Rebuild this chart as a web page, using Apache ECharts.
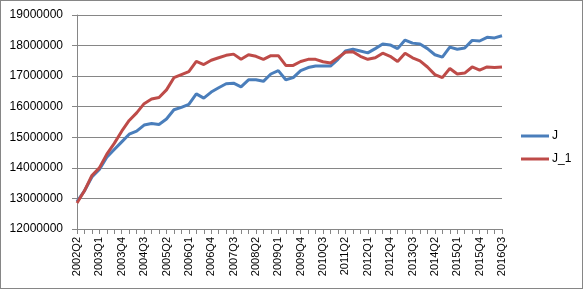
<!DOCTYPE html>
<html>
<head>
<meta charset="utf-8">
<script src="https://cdn.jsdelivr.net/npm/echarts@6/dist/echarts.min.js"></script>
<style>
  html, body { margin: 0; padding: 0; background: #fff; }
  #chart { width: 583px; height: 289px; box-sizing: border-box; border: 1px solid #868686; }
</style>
</head>
<body>
<div id="chart"></div>
<script>
// quarters 2002Q2 .. 2016Q3
const quarters = [];
for (let y = 2002; y <= 2016; y++) {
  for (let q = 1; q <= 4; q++) {
    if (y === 2002 && q < 2) continue;
    if (y === 2016 && q > 3) continue;
    quarters.push(y + 'Q' + q);
  }
}

const seriesJ = [
  12900000, 13250000, 13700000, 13950000, 14350000, 14600000, 14850000, 15100000, 15200000, 15400000,
  15450000, 15420000, 15600000, 15900000, 15980000, 16080000, 16420000, 16280000, 16480000, 16620000,
  16750000, 16770000, 16650000, 16880000, 16880000, 16830000, 17070000, 17180000, 16880000, 16950000,
  17180000, 17280000, 17330000, 17330000, 17330000, 17550000, 17820000, 17880000, 17820000, 17760000,
  17900000, 18050000, 18020000, 17900000, 18180000, 18080000, 18050000, 17900000, 17700000, 17620000,
  17950000, 17880000, 17920000, 18170000, 18150000, 18270000, 18250000, 18320000
];

const seriesJ1 = [
  12850000, 13250000, 13750000, 14000000, 14450000, 14800000, 15200000, 15550000, 15800000, 16100000,
  16250000, 16300000, 16550000, 16950000, 17050000, 17150000, 17480000, 17380000, 17520000, 17600000,
  17680000, 17720000, 17550000, 17700000, 17650000, 17550000, 17670000, 17670000, 17350000, 17350000,
  17480000, 17550000, 17550000, 17470000, 17430000, 17600000, 17780000, 17800000, 17650000, 17550000,
  17600000, 17750000, 17650000, 17480000, 17750000, 17600000, 17500000, 17300000, 17050000, 16950000,
  17250000, 17070000, 17100000, 17300000, 17200000, 17300000, 17280000, 17300000
];

const seriesNames = ['J', 'J_1'];
const seriesColors = ['#4A7EBB', '#BE4B48'];

const myChart = echarts.init(document.getElementById('chart'));

const axisGray = '#868686';
const font = 'Liberation Sans, Arial, sans-serif';

const option = {
  animation: false,
  grid: {
    left: 76,
    right: 80,
    top: 14,
    bottom: 59,
    containLabel: false
  },
  legend: {
    orient: 'vertical',
    left: 515,
    top: 124,
    itemWidth: 28,
    itemHeight: 3,
    itemGap: 11,
    icon: 'rect',
    textStyle: { fontFamily: font, fontSize: 12, color: '#000', padding: [0, 0, 0, -2] },
    data: seriesNames
  },
  xAxis: {
    type: 'category',
    data: quarters,
    boundaryGap: false,
    axisLine: { lineStyle: { color: axisGray, width: 1 } },
    axisTick: { interval: 0, length: 5, lineStyle: { color: axisGray } },
    axisLabel: {
      interval: 2,
      rotate: 90,
      margin: 8,
      fontFamily: font,
      fontSize: 11,
      color: '#000'
    },
    splitLine: { show: false }
  },
  yAxis: {
    type: 'value',
    min: 12000000,
    max: 19000000,
    interval: 1000000,
    axisLine: { show: true, lineStyle: { color: axisGray, width: 1 } },
    axisTick: { show: true, length: 5, lineStyle: { color: axisGray } },
    axisLabel: {
      margin: 14,
      fontFamily: font,
      fontSize: 12,
      color: '#000',
      formatter: (v) => String(v)
    },
    splitLine: { lineStyle: { color: axisGray, width: 1 } }
  },
  series: [
    {
      name: seriesNames[0],
      type: 'line',
      data: seriesJ,
      showSymbol: false,
      symbol: 'none',
      itemStyle: { color: seriesColors[0] },
      lineStyle: { color: seriesColors[0], width: 3 }
    },
    {
      name: seriesNames[1],
      type: 'line',
      data: seriesJ1,
      showSymbol: false,
      symbol: 'none',
      itemStyle: { color: seriesColors[1] },
      lineStyle: { color: seriesColors[1], width: 3 }
    }
  ]
};

myChart.setOption(option);
</script>
</body>
</html>
